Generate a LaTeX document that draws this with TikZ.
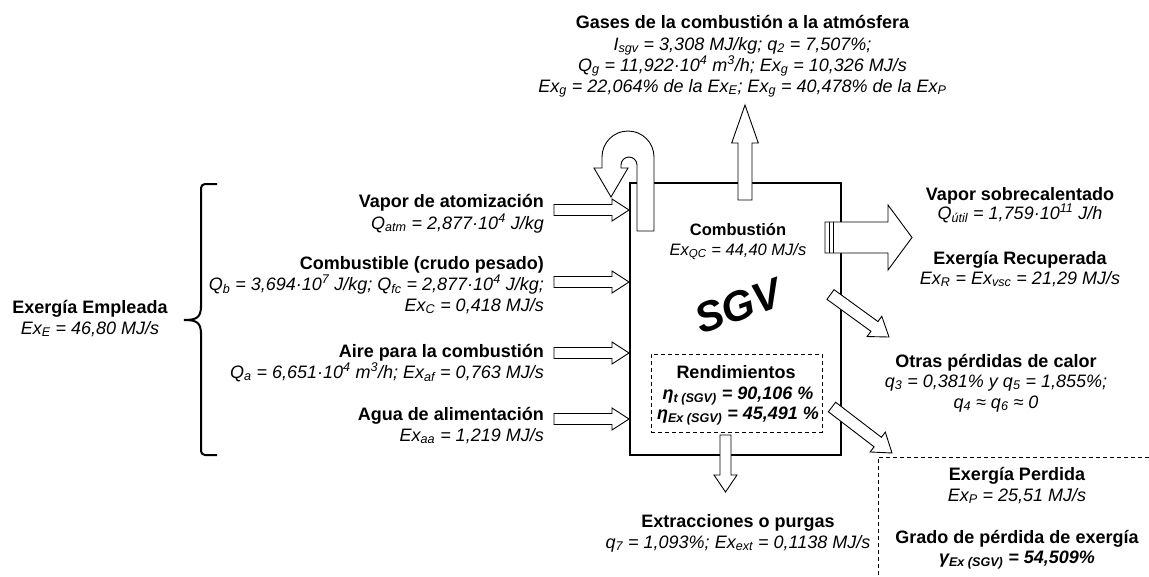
\documentclass[tikz,border=0pt]{standalone}
\usepackage{fontspec}
\setmainfont{Liberation Sans}
\usetikzlibrary{calc}

\newcommand\sbs[1]{\textsubscript{#1}}
\newcommand\sps[1]{\textsuperscript{#1}}
\newcommand\blockarrow[5]{%
  \path ($(#2)!#5!(#1)$) coordinate (hb);
  \draw[blk] ($(#1)!#3!90:(#2)$) -- ($(hb)!#3!90:(#2)$) -- ($(hb)!#4!90:(#2)$) -- (#2) -- ($(hb)!#4!-90:(#2)$) -- ($(hb)!#3!-90:(#2)$) -- ($(#1)!#3!-90:(#2)$) -- cycle;}

\tikzset{
  hdl/.style={inner sep=0pt, anchor=base, font=\fontsize{18}{21}\selectfont\bfseries},
  itl/.style={inner sep=0pt, anchor=base, font=\fontsize{18}{21}\selectfont\itshape},
  bil/.style={inner sep=0pt, anchor=base, font=\fontsize{18}{21}\selectfont\bfseries\itshape},
  hds/.style={inner sep=0pt, anchor=base, font=\fontsize{16.5}{20}\selectfont\bfseries},
  its/.style={inner sep=0pt, anchor=base, font=\fontsize{16.5}{20}\selectfont\itshape},
  blk/.style={draw=black, fill=white, line width=0.9pt, line join=miter},
  dsh/.style={line width=1pt, dash pattern=on 4pt off 3pt},
}

\begin{document}
\begin{tikzpicture}[x=1pt,y=-1pt]
\useasboundingbox (0,0) rectangle (1149,576);
\fill[white] (0,0) rectangle (1149,576);

% main box
\node[draw, line width=2.8pt, minimum width=211pt, minimum height=272pt, inner sep=0pt, outer sep=0pt] (sgv) at (735.5,319) {};

% input arrows
\coordinate (a1s) at (554,210); \coordinate (a1e) at (629,210);
\coordinate (a2s) at (554,282); \coordinate (a2e) at (629,282);
\coordinate (a3s) at (554,353); \coordinate (a3e) at (629,353);
\coordinate (a4s) at (554,419); \coordinate (a4e) at (629,419);
\blockarrow{a1s}{a1e}{5.5pt}{11pt}{17pt}
\blockarrow{a2s}{a2e}{5.5pt}{11pt}{17pt}
\blockarrow{a3s}{a3e}{5.5pt}{11pt}{17pt}
\blockarrow{a4s}{a4e}{5.5pt}{11pt}{17pt}

% top arrow (gases)
\coordinate (gs) at (745,200); \coordinate (ge) at (745,105);
\blockarrow{gs}{ge}{7pt}{13.3pt}{38pt}

% U-turn arrow
\draw[blk] (654,231) -- (654,157) arc[start angle=0,end angle=180,radius=26pt]
  -- (602,168) -- (594,168) -- (611,197) -- (628,168) -- (621,168) -- (621,165)
  arc[start angle=180,end angle=0,radius=8pt] -- (637,231) -- cycle;

% superheated steam arrow
\coordinate (vs) at (825,237.5); \coordinate (ve) at (912,237.5);
\blockarrow{vs}{ve}{15.5pt}{32.5pt}{24pt}
\draw[line width=0.9pt] (829,222) -- (829,253) (833,222) -- (833,253);

% diagonal arrows
\coordinate (d1s) at (830.5,294.5); \coordinate (d1e) at (889,337);
\blockarrow{d1s}{d1e}{6pt}{12.5pt}{18pt}
\coordinate (d2s) at (832,407); \coordinate (d2e) at (892,453);
\blockarrow{d2s}{d2e}{6pt}{12.5pt}{18pt}

% bottom arrow
\coordinate (bs) at (725.5,435); \coordinate (be) at (725.5,492);
\blockarrow{bs}{be}{5.5pt}{11.5pt}{17pt}

% dashed boxes
\node[draw, dsh, minimum width=171pt, minimum height=78pt, inner sep=0pt] (rend) at (736.5,393) {};
\coordinate (pk) at (878,457);
\draw[dsh] (1149,457) -- (pk) -- (878,576);

% brace
\draw[line width=2pt, rounded corners=4pt] (217,184) -- (201,184) -- (201,308);
\draw[line width=2pt] (201,306) .. controls (201,318) and (196,320) .. (184,320)
  .. controls (196,320) and (201,322) .. (201,334);
\draw[line width=2pt, rounded corners=4pt] (201,332) -- (201,455) -- (217,455);

% top texts
\node[hdl] (g1) at (742.5,28) {Gases de la combustión a la atmósfera};
\node[itl] (g2) at (742.5,50) {I\sbs{sgv} = 3,308 MJ/kg; q\sbs{2} = 7,507\%;};
\node[itl] (g3) at (742.5,71) {Q\sbs{g} = 11,922·10\sps{4} m\sps{3}/h; Ex\sbs{g} = 10,326 MJ/s};
\node[itl] (g4) at (742.5,92) {Ex\sbs{g} = 22,064\% de la Ex\sbs{E}; Ex\sbs{g} = 40,478\% de la Ex\sbs{P}};

% left texts
\node[hdl, anchor=base east] (l1) at (544,207) {Vapor de atomización};
\node[itl, anchor=base east] (l2) at (544,229) {Q\sbs{atm} = 2,877·10\sps{4} J/kg};
\node[hdl, anchor=base east] (l3) at (544,269) {Combustible (crudo pesado)};
\node[itl, anchor=base east] (l4) at (544,290) {Q\sbs{b} = 3,694·10\sps{7} J/kg; Q\sbs{fc} = 2,877·10\sps{4} J/kg;};
\node[itl, anchor=base east] (l5) at (544,311) {Ex\sbs{C} = 0,418 MJ/s};
\node[hdl, anchor=base east] (l6) at (544,357) {Aire para la combustión};
\node[itl, anchor=base east] (l7) at (544,378) {Q\sbs{a} = 6,651·10\sps{4} m\sps{3}/h; Ex\sbs{af} = 0,763 MJ/s};
\node[hdl, anchor=base east] (l8) at (544,420) {Agua de alimentación};
\node[itl, anchor=base east] (l9) at (544,441) {Ex\sbs{aa} = 1,219 MJ/s};

\node[hdl] (e1) at (90,313) {Exergía Empleada};
\node[itl] (e2) at (90,334) {Ex\sbs{E} = 46,80 MJ/s};

% inside box
\node[hds] (c1) at (738,235) {Combustión};
\node[its] (c2) at (738,255) {Ex\sbs{QC} = 44,40 MJ/s};
\node[inner sep=0pt, rotate=20, font=\fontsize{42}{42}\selectfont\bfseries\itshape] (sg) at (738,306) {SGV};
\node[hdl] (r1) at (736,378) {Rendimientos};
\node[bil] (r2) at (738,399) {η\sbs{t (SGV)} = 90,106 \%};
\node[bil] (r3) at (738,419) {η\sbs{Ex (SGV)} = 45,491 \%};

% right texts
\node[hdl] (v1) at (1020,200) {Vapor sobrecalentado};
\node[itl] (v2) at (1020,219) {Q\sbs{útil} = 1,759·10\sps{11} J/h};
\node[hdl] (v3) at (1020,264) {Exergía Recuperada};
\node[itl] (v4) at (1020,284) {Ex\sbs{R} = Ex\sbs{vsc} = 21,29 MJ/s};

\node[hdl] (o1) at (996,367) {Otras pérdidas de calor};
\node[itl] (o2) at (996,387) {q\sbs{3} = 0,381\% y q\sbs{5} = 1,855\%;};
\node[itl] (o3) at (996,408) {q\sbs{4} ≈ q\sbs{6} ≈ 0};

\node[hdl] (p1) at (1017,480) {Exergía Perdida};
\node[itl] (p2) at (1017,501) {Ex\sbs{P} = 25,51 MJ/s};
\node[hdl] (p3) at (1017,543) {Grado de pérdida de exergía};
\node[bil] (p4) at (1017,563) {γ\sbs{Ex (SGV)} = 54,509\%};

\node[hdl] (x1) at (738,527) {Extracciones o purgas};
\node[itl] (x2) at (738,548) {q\sbs{7} = 1,093\%; Ex\sbs{ext} = 0,1138 MJ/s};
\end{tikzpicture}
\end{document}
